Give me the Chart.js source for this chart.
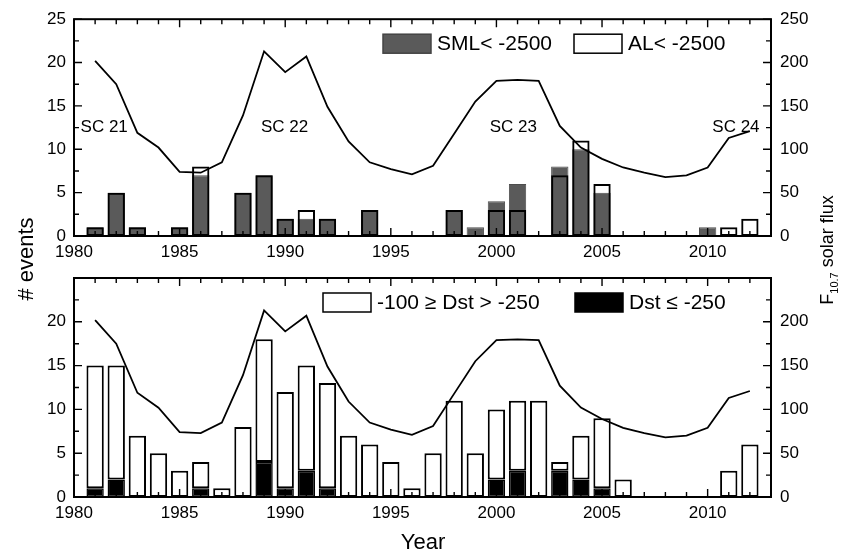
<!DOCTYPE html>
<html>
<head>
<meta charset="utf-8">
<script src="https://cdn.jsdelivr.net/npm/chart.js@4/dist/chart.umd.min.js"></script>
<style>
  html, body { margin: 0; padding: 0; background: #fff; }
  #wrap { position: relative; width: 847px; height: 556px; background: #fff; }
  #wrap canvas { position: absolute; left: 0; top: 0; }
</style>
</head>
<body>
<div id="wrap">
  <canvas id="topChart" width="847" height="556"></canvas>
  <canvas id="bottomChart" width="847" height="556"></canvas>
</div>
<script>
// ---------------- DATA ----------------
const years = [1981,1982,1983,1984,1985,1986,1987,1988,1989,1990,1991,1992,1993,1994,1995,1996,
               1997,1998,1999,2000,2001,2002,2003,2004,2005,2006,2007,2008,2009,2010,2011,2012];
// yearly F10.7 solar flux (right axis)
const f107 = [202,175,119,102,74,73,85,139,213,189,207,149,109,85,77,71,
              81,118,155,179,180,179,127,102,89,79,73,68,70,79,113,121];
// top panel: substorm events
const smlEvents = [1,5,1,0,1,7,0,5,7,2,2,2,0,3,0,0,
                   0,3,1,4,6,0,8,10,5,0,0,0,0,1,0,0];
const alEvents  = [1,5,1,0,1,8,0,5,7,2,3,2,0,3,0,0,
                   0,3,0,3,3,0,7,11,6,0,0,0,0,0,1,2];
// bottom panel: storm events
const dstModerate = [14,13,7,5,3,3,1,8,14,11,12,12,7,6,4,1,
                     5,11,5,8,8,11,1,5,8,2,0,0,0,0,3,6];   // -100 >= Dst > -250
const dstIntense  = [1,2,0,0,0,1,0,0,4,1,3,1,0,0,0,0,
                     0,0,0,2,3,0,3,2,1,0,0,0,0,0,0,0];     // Dst <= -250
// tick labels
const xTickYears = [1980,1985,1990,1995,2000,2005,2010];
const countTicksTop = [0,5,10,15,20,25];
const fluxTicksTop = [0,50,100,150,200,250];
const countTicksBottom = [0,5,10,15,20];
const fluxTicksBottom = [0,50,100,150,200];
// cycle labels
const cycleNames = ['SC 21','SC 22','SC 23','SC 24'];
const cycleYears = [1981.43,1989.97,2000.8,2011.34];
const cycleLevel = [12.5,12.5,12.5,12.5];

// ---------------- HELPERS ----------------
const FONT = "'Liberation Sans', Arial, Helvetica, sans-serif";
const xy = (arr) => years.map((yr, i) => ({ x: yr, y: arr[i] > 0 ? arr[i] : null }));

const deco = {
  id: 'deco',
  afterDatasetsDraw(chart, args, o) {
    const { ctx, chartArea: a, scales } = chart;
    const x = scales.x, yl = scales.y, yr = scales.y1;
    const MAJ = 8, MIN = 5;
    ctx.save();
    ctx.strokeStyle = '#000';
    ctx.lineWidth = 1.4;
    ctx.beginPath();
    for (let v = x.min; v <= x.max + 1e-9; v += 1) {
      const px = x.getPixelForValue(v);
      const len = (v % 5 === 0) ? MAJ : MIN;
      ctx.moveTo(px, a.bottom); ctx.lineTo(px, a.bottom - len);
      ctx.moveTo(px, a.top); ctx.lineTo(px, a.top + len);
    }
    for (let v = yl.min; v <= yl.max + 1e-9; v += 2.5) {
      const py = yl.getPixelForValue(v);
      const len = (v % 5 === 0) ? MAJ : MIN;
      ctx.moveTo(a.left, py); ctx.lineTo(a.left + len, py);
    }
    for (let v = yr.min; v <= yr.max + 1e-9; v += 25) {
      const py = yr.getPixelForValue(v);
      const len = (v % 50 === 0) ? MAJ : MIN;
      ctx.moveTo(a.right, py); ctx.lineTo(a.right - len, py);
    }
    ctx.stroke();
    ctx.lineWidth = 2;
    ctx.strokeRect(a.left, a.top, a.right - a.left, a.bottom - a.top);
    ctx.restore();
  },
  afterDraw(chart, args, o) {
    const { ctx, chartArea: a, scales } = chart;
    ctx.save();
    ctx.fillStyle = '#000';
    // legend
    if (o.legend) {
      const L = o.legend;
      L.items.forEach((idx, k) => {
        const ds = chart.data.datasets[idx];
        const bx = a.left + L.x[k], by = a.top + L.top;
        ctx.fillStyle = '#fff';
        ctx.fillRect(bx, by, L.w, L.h);
        ctx.fillStyle = ds.backgroundColor;
        ctx.fillRect(bx, by, L.w, L.h);
        ctx.lineWidth = 1.5;
        ctx.strokeStyle = ds.legendBorder || ds.borderColor;
        ctx.strokeRect(bx, by, L.w, L.h);
        ctx.fillStyle = '#000';
        ctx.font = L.font;
        ctx.textAlign = 'left';
        ctx.textBaseline = 'middle';
        ctx.fillText(ds.label, bx + L.w + 6, by + L.h / 2 + 1);
      });
    }
    // cycle labels
    if (o.cycles) {
      ctx.font = '17px ' + FONT;
      ctx.textAlign = 'center';
      ctx.textBaseline = 'middle';
      ctx.fillStyle = '#000';
      cycleNames.forEach((t, i) => {
        ctx.fillText(t, scales.x.getPixelForValue(cycleYears[i]), scales.y.getPixelForValue(cycleLevel[i]));
      });
    }
    // axis titles
    if (o.titles) {
      ctx.fillStyle = '#000';
      // Year
      ctx.font = '22px ' + FONT;
      ctx.textAlign = 'center';
      ctx.textBaseline = 'alphabetic';
      ctx.fillText('Year', 423, 549);
      // # events
      ctx.save();
      ctx.translate(33, 259);
      ctx.rotate(-Math.PI / 2);
      ctx.fillText('# events', 0, 0);
      ctx.restore();
      // F10.7 solar flux
      ctx.save();
      ctx.translate(832.5, 250);
      ctx.rotate(-Math.PI / 2);
      const big = '18px ' + FONT, small = '11px ' + FONT;
      ctx.font = big; const wF = ctx.measureText('F').width;
      const wRest = ctx.measureText(' solar flux').width;
      ctx.font = small; const wSub = ctx.measureText('10.7').width;
      let sx = -(wF + wSub + wRest) / 2;
      ctx.textAlign = 'left';
      ctx.font = big; ctx.fillText('F', sx, 0); sx += wF;
      ctx.font = small; ctx.fillText('10.7', sx, 5.5); sx += wSub;
      ctx.font = big; ctx.fillText(' solar flux', sx, 0);
      ctx.restore();
    }
    ctx.restore();
  }
};

function makeScales(countTicks, fluxTicks, stacked) {
  const tickFont = { family: FONT, size: 17 };
  const common = {
    grid: { display: false, drawTicks: false },
    border: { display: false },
  };
  return {
    x: Object.assign({}, common, {
      type: 'linear', min: 1980, max: 2013, offset: false, stacked: stacked,
      ticks: { font: tickFont, color: '#000', padding: 6.5, maxRotation: 0, autoSkip: false,
               callback: v => String(v) },
      afterBuildTicks: s => { s.ticks = xTickYears.map(v => ({ value: v })); },
      afterFit: s => { s.height = 30; }
    }),
    y: Object.assign({}, common, {
      type: 'linear', position: 'left', min: 0, max: 25, stacked: stacked,
      ticks: { font: tickFont, color: '#000', padding: 8, callback: v => String(v) },
      afterBuildTicks: s => { s.ticks = countTicks.map(v => ({ value: v })); },
      afterFit: s => { s.width = 60; }
    }),
    y1: Object.assign({}, common, {
      type: 'linear', position: 'right', min: 0, max: 250,
      ticks: { font: tickFont, color: '#000', padding: 9, callback: v => String(v) },
      afterBuildTicks: s => { s.ticks = fluxTicks.map(v => ({ value: v })); },
      afterFit: s => { s.width = 60; }
    })
  };
}

const fluxLine = () => ({
  type: 'line', label: 'F10.7', data: years.map((yr, i) => ({ x: yr, y: f107[i] })),
  yAxisID: 'y1', borderColor: '#000', borderWidth: 1.8, pointRadius: 0, tension: 0, fill: false
});

// ---------------- TOP PANEL ----------------
new Chart(document.getElementById('topChart'), {
  type: 'bar',
  data: {
    datasets: [
      fluxLine(),
      { label: 'AL< -2500', data: xy(alEvents), yAxisID: 'y',
        backgroundColor: 'rgba(255,255,255,0)', borderColor: '#000', legendBorder: '#000',
        borderWidth: 2, borderSkipped: false, grouped: false,
        barPercentage: 0.82, categoryPercentage: 1 },
      { label: 'SML< -2500', data: xy(smlEvents), yAxisID: 'y',
        backgroundColor: '#5a5a5a', borderColor: '#4d4d4d', legendBorder: '#444',
        borderWidth: 1, borderSkipped: false, grouped: false,
        barPercentage: 0.82, categoryPercentage: 1 }
    ]
  },
  options: {
    responsive: false, animation: false, devicePixelRatio: 1,
    layout: { padding: { left: 14, right: 16, top: 17, bottom: 290 } },
    plugins: {
      legend: { display: false }, tooltip: { enabled: false },
      deco: { cycles: true,
        legend: { items: [2, 1], x: [309, 500], top: 15, w: 48, h: 19, font: '21px ' + FONT } }
    },
    scales: makeScales(countTicksTop, fluxTicksTop, false)
  },
  plugins: [deco]
});

// ---------------- BOTTOM PANEL ----------------
new Chart(document.getElementById('bottomChart'), {
  type: 'bar',
  data: {
    datasets: [
      fluxLine(),
      { label: 'Dst \u2264 -250', data: xy(dstIntense), yAxisID: 'y',
        backgroundColor: '#000', borderColor: '#000', borderWidth: 1.5, borderSkipped: false,
        barPercentage: 0.82, categoryPercentage: 1 },
      { label: '-100 \u2265 Dst > -250', data: xy(dstModerate), yAxisID: 'y',
        backgroundColor: '#fff', borderColor: '#000', borderWidth: 2, borderSkipped: false,
        barPercentage: 0.82, categoryPercentage: 1 }
    ]
  },
  options: {
    responsive: false, animation: false, devicePixelRatio: 1,
    layout: { padding: { left: 14, right: 16, top: 278, bottom: 29 } },
    plugins: {
      legend: { display: false }, tooltip: { enabled: false },
      deco: { titles: true,
        legend: { items: [2, 1], x: [249, 501], top: 15, w: 48, h: 19, font: '21px ' + FONT } }
    },
    scales: makeScales(countTicksBottom, fluxTicksBottom, true)
  },
  plugins: [deco]
});
</script>
</body>
</html>
